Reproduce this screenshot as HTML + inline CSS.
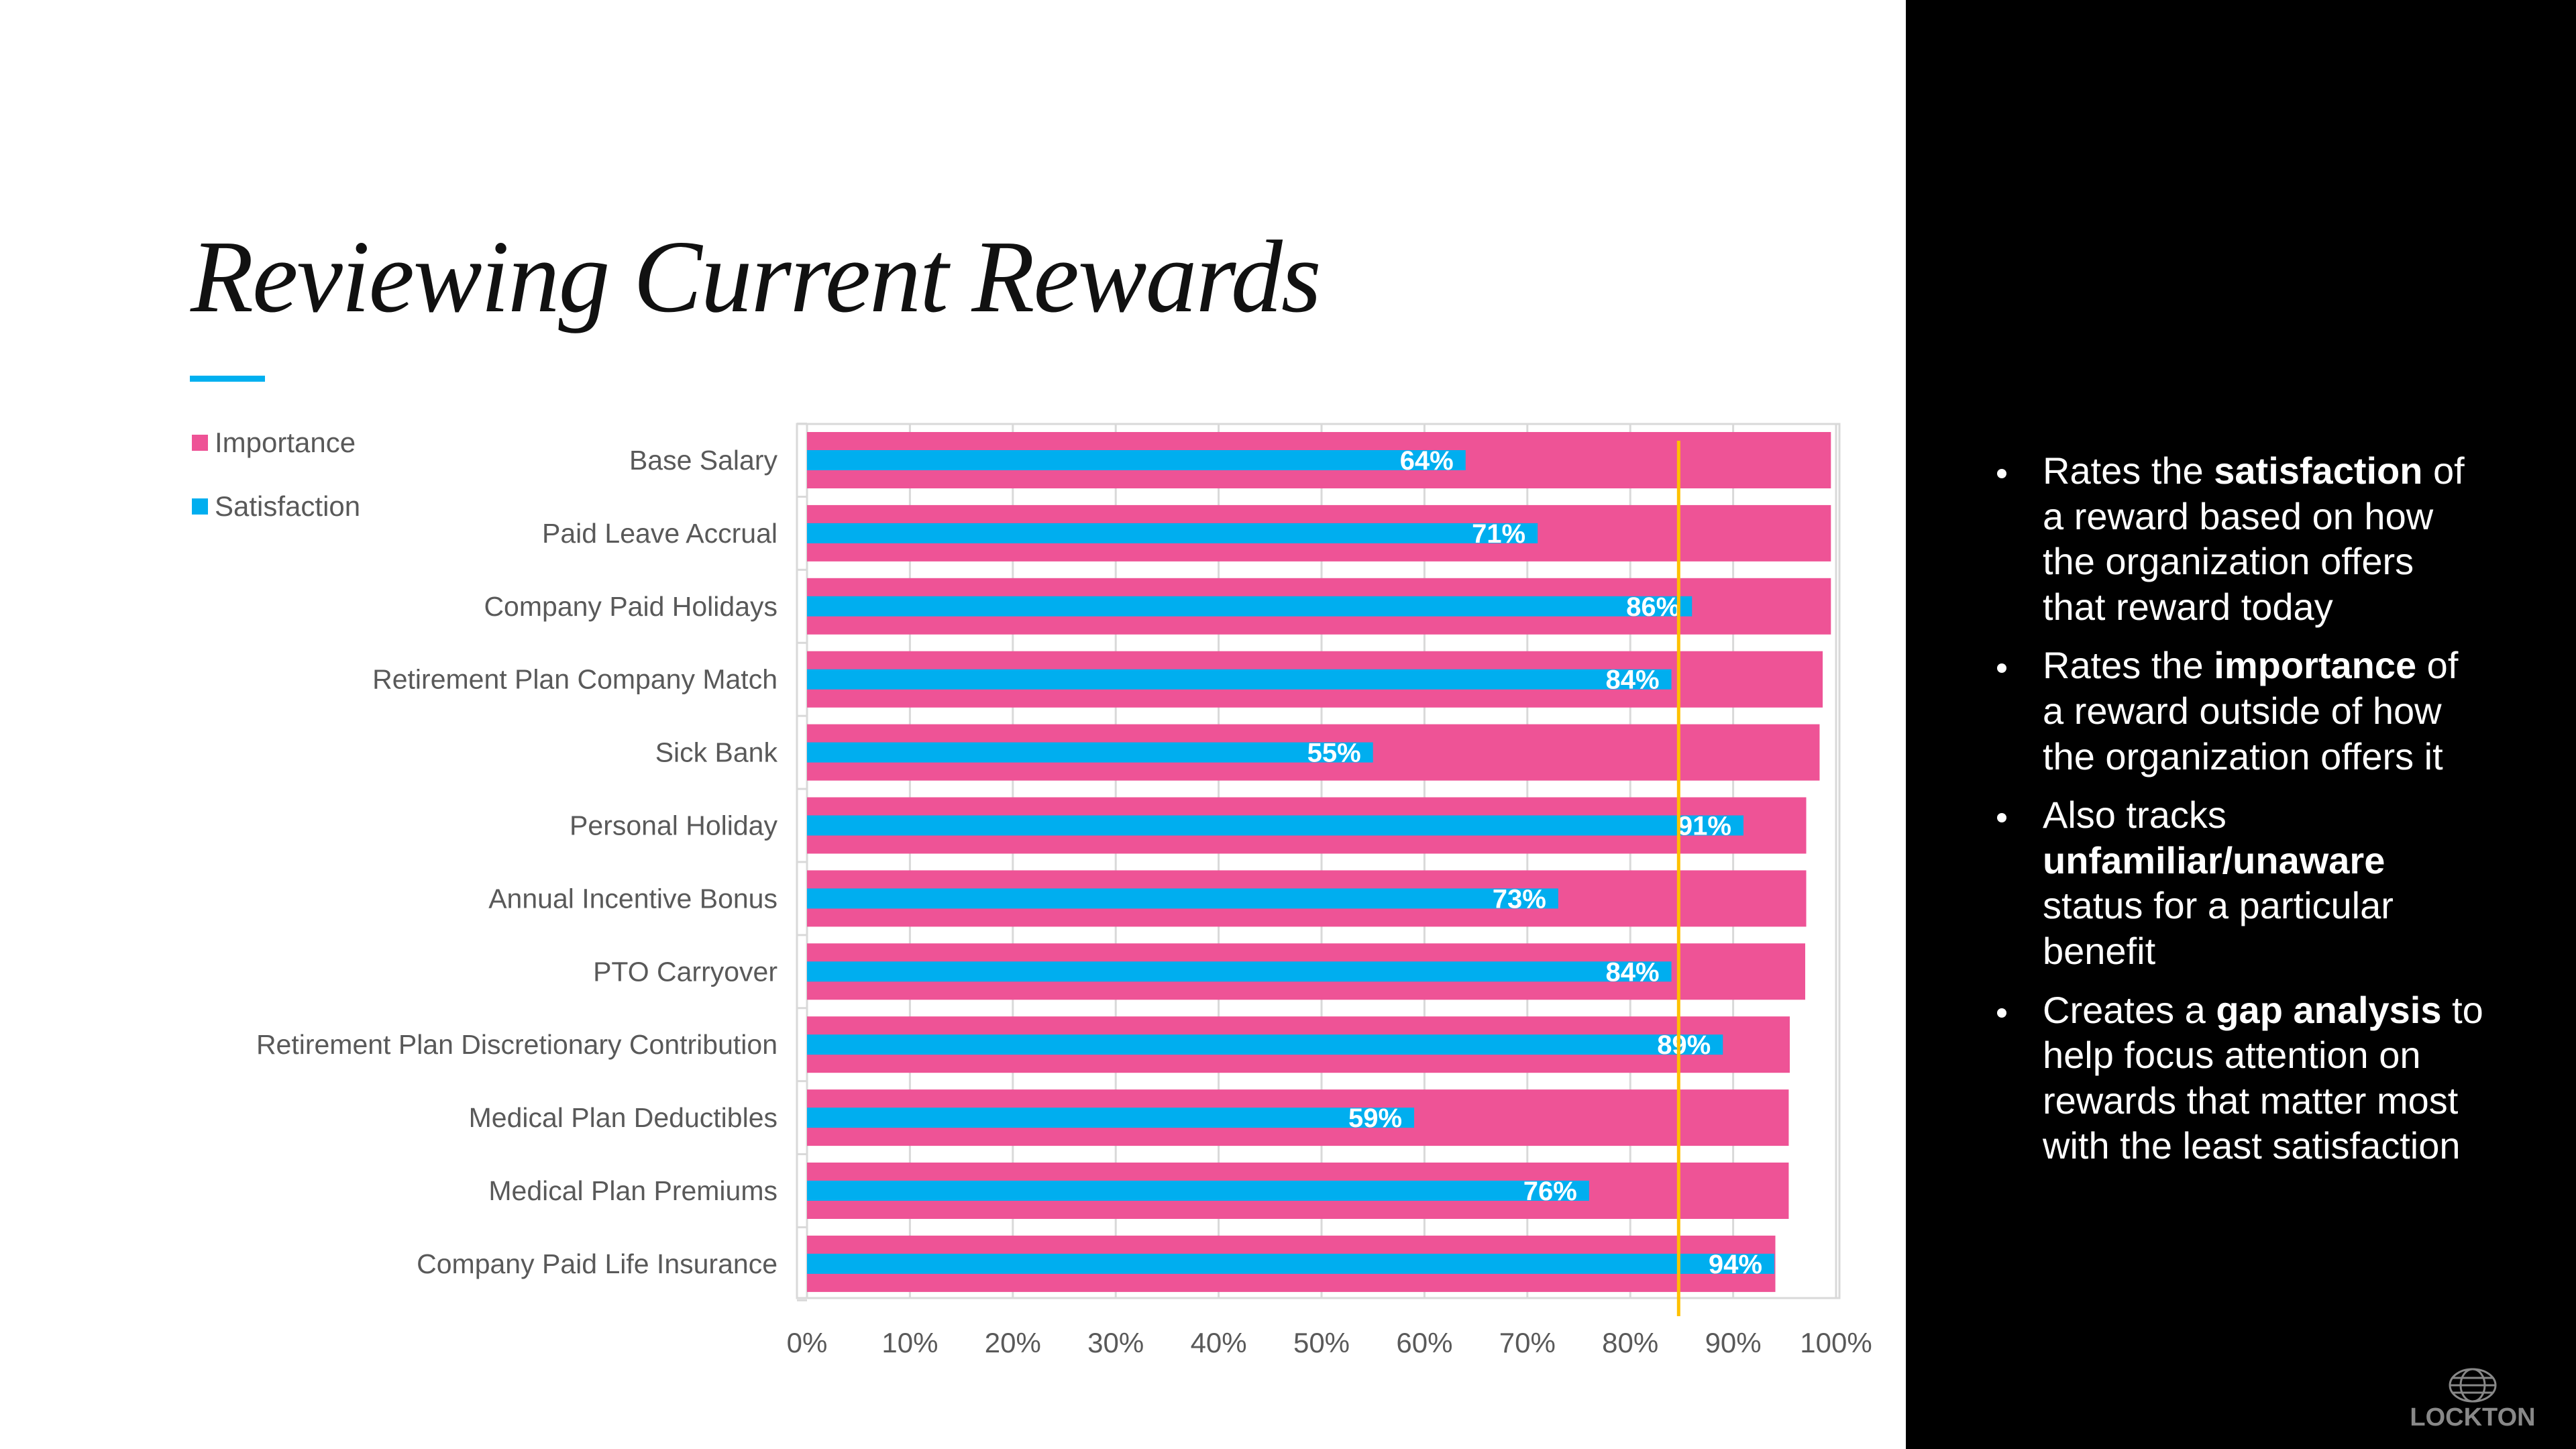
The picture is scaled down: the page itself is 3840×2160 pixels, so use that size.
<!DOCTYPE html>
<html><head><meta charset="utf-8">
<style>
html,body{margin:0;padding:0;background:#fff;}
body{width:3840px;height:2160px;position:relative;overflow:hidden;font-family:"Liberation Sans",sans-serif;}
#title{position:absolute;left:284px;top:325px;font-family:"Liberation Serif",serif;font-style:italic;font-size:154px;color:#111;white-space:nowrap;letter-spacing:-2px;}
#accent{position:absolute;left:283px;top:560px;width:112px;height:9px;background:#00b0f0;}
#panel{position:absolute;left:2841px;top:0;width:999px;height:2160px;background:#000;}
#bullets{position:absolute;left:2975px;top:668px;width:800px;color:#fff;font-size:56px;line-height:67.6px;margin:0;padding:0;list-style:none;white-space:nowrap;}
#bullets li{position:relative;padding-left:70px;margin-bottom:20px;}
#bullets li::before{content:"";position:absolute;left:2px;top:31px;width:14px;height:14px;border-radius:50%;background:#fff;}
</style></head><body>
<div id="title">Reviewing Current Rewards</div>
<div id="accent"></div>
<svg id="chart" width="2841" height="2160" style="position:absolute;left:0;top:0"></svg>
<div id="panel">
</div>
<ul id="bullets">
<li>Rates the <b>satisfaction</b> of<br>a reward based on how<br>the organization offers<br>that reward today</li>
<li>Rates the <b>importance</b> of<br>a reward outside of how<br>the organization offers it</li>
<li>Also tracks<br><b>unfamiliar/unaware</b><br>status for a particular<br>benefit</li>
<li>Creates a <b>gap analysis</b> to<br>help focus attention on<br>rewards that matter most<br>with the least satisfaction</li>
</ul>
<svg width="220" height="110" style="position:absolute;left:3576px;top:2025px">
<g fill="none" stroke="#888" stroke-width="3">
<ellipse cx="110" cy="40" rx="34" ry="24"/>
<ellipse cx="110" cy="40" rx="18" ry="24"/>
<line x1="76" y1="40" x2="144" y2="40"/>
<line x1="80" y1="29" x2="140" y2="29"/><line x1="80" y1="51" x2="140" y2="51"/>
</g>
<text x="110" y="100" text-anchor="middle" font-family="Liberation Sans" font-weight="bold" font-size="38" fill="#888">LOCKTON</text>
</svg>
<script>
const categories=["Base Salary","Paid Leave Accrual","Company Paid Holidays","Retirement Plan Company Match","Sick Bank","Personal Holiday","Annual Incentive Bonus","PTO Carryover","Retirement Plan Discretionary Contribution","Medical Plan Deductibles","Medical Plan Premiums","Company Paid Life Insurance"];
const importance=[99.5,99.5,99.5,98.7,98.4,97.1,97.1,97.0,95.5,95.4,95.4,94.1];
const satisfaction=[64,71,86,84,55,91,73,84,89,59,76,94];
const tickLabels=["0%","10%","20%","30%","40%","50%","60%","70%","80%","90%","100%"];
const refLine=84.7;
const NS="http://www.w3.org/2000/svg";
const svg=document.getElementById('chart');
const X0=1203,X1=2737,PT=632,PB=1935,BAND=108.9,ROW0=686;
const xs=v=>X0+(X1-X0)*v/100;
const yc=i=>ROW0+i*BAND;
function mk(tag,attrs,parent){const e=document.createElementNS(NS,tag);for(const k in attrs)e.setAttribute(k,attrs[k]);(parent||svg).appendChild(e);return e;}
const fr=mk('rect',{x:1188,y:PT,width:X1-1188+5,height:PB-PT,fill:'none',stroke:'#d9d9d9','stroke-width':3});


tickLabels.forEach((t,i)=>{
  const x=xs(i*10);
  const g=mk('line',{x1:x,y1:PT,x2:x,y2:PB,stroke:'#d9d9d9','stroke-width':3});
  
  
  const tl=mk('text',{x:x,y:2016,'text-anchor':'middle','font-size':42,fill:'#595959','font-family':'Liberation Sans'});
  tl.textContent=t;
  
  
});
for(let i=0;i<=categories.length;i++){
  const y=yc(i)-BAND/2;
  const tk=mk('line',{x1:1188,y1:y,x2:X0,y2:y,stroke:'#d9d9d9','stroke-width':3});
  
  
}
categories.forEach((c,i)=>{
  const y=yc(i);
  const pb=mk('rect',{x:X0,y:y-42,width:xs(importance[i])-X0,height:84,fill:'#ee5396'});
  
  
  const bb=mk('rect',{x:X0,y:y-15,width:xs(satisfaction[i])-X0,height:30,fill:'#00aeef'});
  
  
  const vl=mk('text',{x:xs(satisfaction[i])-18,y:y+14,'text-anchor':'end','font-size':40,'font-weight':'bold',fill:'#fff','font-family':'Liberation Sans'});
  vl.textContent=satisfaction[i]+'%';
  
  
  const cl=mk('text',{x:1159,y:y+14,'text-anchor':'end','font-size':41,fill:'#595959','font-family':'Liberation Sans'});
  cl.textContent=c;
  
  
});
const rl=mk('line',{x1:xs(refLine),y1:657,x2:xs(refLine),y2:1962,stroke:'#ffc000','stroke-width':5});


[["Importance","#ee5396",660],["Satisfaction","#00aeef",755]].forEach(([n,c,y])=>{
  const s=mk('rect',{x:286,y:y-12,width:24,height:24,fill:c});
  
  
  const t=mk('text',{x:320,y:y+14,'font-size':42,fill:'#595959','font-family':'Liberation Sans'});
  t.textContent=n;
  
  
});
</script>
</body></html>
